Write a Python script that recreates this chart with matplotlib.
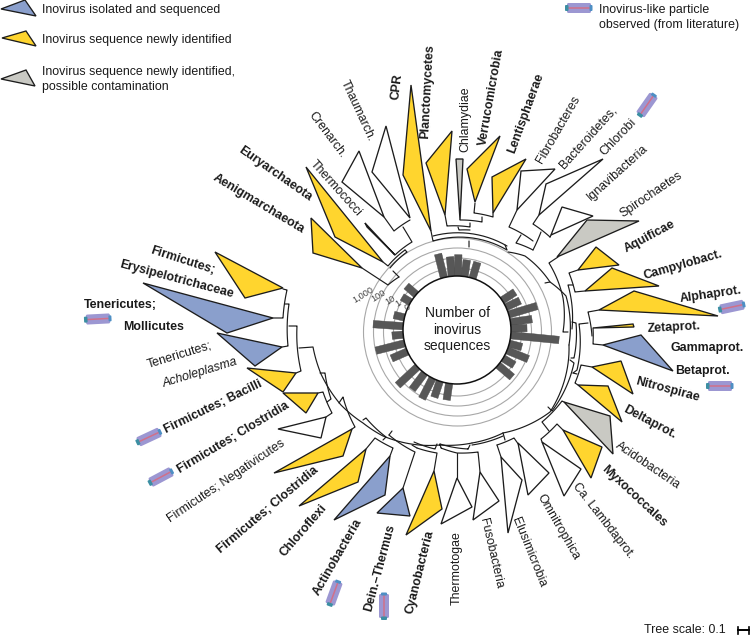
import numpy as np
import matplotlib
matplotlib.use("Agg")
import matplotlib.pyplot as plt
from matplotlib.patches import Polygon, Circle, FancyBboxPatch
from matplotlib.transforms import Affine2D

plt.rcParams['font.family'] = ['Liberation Sans', 'DejaVu Sans']

YEL, BLU, GRY, WHT = '#FFD52E', '#8A9FCC', '#C9C9C3', '#FFFFFF'
INK = '#1c1c1c'

# inovirus counts per radial bar: angle clockwise from north, number of sequences
bar_angles = [-14, -5.5, 1, 8, 16.7, 56.8, 65, 73.3, 81.7, 88.4, 95.6, 104.7, 112.2, 121.5, 130.5,
              188.4, 198.6, 207, 217, 227, 246.5, 255.7, 265, 274, 283.4, 301, 311]
bar_counts = [27, 9, 13.5, 4.7, 4.7, 3.4, 3.5, 89, 15, 4, 7000, 2, 19, 2, 7,
              4.7, 5, 20, 11, 50, 5.4, 93, 1.3, 100, 1.2, 1, 2]
ring_values = [1, 10, 100, 1000]
ring_labels = ['0', '1', '10', '100', '1,000']

# collapsed clades (outline points, colour)
clades = [
    ([(306,167),(335,237),(383,262)], YEL), ([(311,218),(313,253),(362,268)], YEL),
    ([(215,252),(245,298),(283,288)], YEL), ([(365,223),(367,227),(395,255)], WHT),
    ([(359,151),(342,182),(384,217)], WHT), ([(386,126),(372,172),(410,218)], WHT),
    ([(411,85),(403,175),(431,231)], YEL), ([(452,131),(426,163),(445,215)], YEL),
    ([(456,159),(463,159),(460,220)], GRY), ([(500,136),(467,169),(475,202)], YEL),
    ([(526,159),(492,177),(493,213)], YEL), ([(521,171),(555,169),(517,210)], WHT),
    ([(603,159),(546,184),(539,215)], WHT), ([(562,207),(593,216),(551,235)], WHT),
    ([(587,220),(639,221),(557,257)], GRY), ([(596,247),(619,265),(578,270)], YEL),
    ([(612,268),(659,286),(585,291)], YEL), ([(634,291),(718,316),(599,310)], YEL),
    ([(593,328),(633,324),(634,327)], YEL), ([(641,335),(673,371),(603,345)], BLU),
    ([(621,361),(633,394),(592,367)], YEL), ([(608,386),(622,422),(578,385)], YEL),
    ([(610,416),(613,454),(564,402)], GRY), ([(602,447),(591,478),(563,430)], YEL),
    ([(581,469),(564,496),(542,442)], WHT), ([(549,473),(528,495),(518,443)], WHT),
    ([(522,480),(508,533),(501,457)], WHT), ([(499,501),(473,520),(480,472)], WHT),
    ([(472,507),(441,524),(457,478)], WHT), ([(434,471),(442,509),(406,535)], YEL),
    ([(403,488),(410,516),(377,513)], BLU), ([(390,456),(385,495),(334,520)], BLU),
    ([(366,449),(358,482),(299,506)], YEL), ([(352,429),(343,456),(274,473)], YEL),
    ([(326,417),(321,438),(278,429)], WHT), ([(318,393),(306,413),(283,393)], YEL),
    ([(296,373),(283,392),(247,368)], YEL), ([(282,347),(255,366),(217,333)], BLU),
    ([(273,318),(227,333),(143,283)], BLU),
]
legend_clades = [([(1,9),(25,0),(36,16)], BLU), ([(2,38),(26,31),(36,46)], YEL), ([(1,79),(26,70),(35,86)], GRY)]

# branches of the tree
branches = [
    [(362,268),(388,285),(399,277)], [(399,277),(393,271)],
    [(383,262),(388,266),(405,250)], [(390,268),(407,252),(405,250)], [(395,255),(412,242),(403,227)],
    [(384,217),(394,231),(410,220)],
    [(431,231),(433,241),(507,250),(505,245)], [(433,236),(507,246)], [(469,241),(469,247)],
    [(445,215),(447,226),(470,227),(470,223)], [(460,220),(482,222),(482,217)],
    [(475,203),(474,213),(493,217),(493,213)], [(458,227),(459,230),(470,230)],
    [(517,210),(509,227),(533,241)], [(539,215),(533,224),(550,237),(551,235)], [(541,232),(533,250)],
    [(521,235),(516,243),(533,250)],
    [(558,257),(549,263),(563,298),(563,332),(568,332)],
    [(578,270),(569,273),(575,292),(585,291)], [(573,285),(568,285),(572,329)],
    [(599,310),(588,312),(592,336)], [(588,323),(579,324),(577,370),(573,373)],
    [(593,328),(593,344),(603,345)], [(572,322),(576,323),(574,358),(571,358)],
    [(592,367),(581,365),(575,383),(578,385)], [(577,374),(573,373)],
    [(564,402),(562,401),(542,422),(549,431)], [(563,430),(557,424),(541,439),(542,442)],
    [(570,360),(574,363),(552,411),(548,407)], [(569,345),(550,412),(503,433)],
    [(503,433),(505,440)], [(472,443),(503,433)], [(472,445),(503,436)],
    [(497,445),(514,438),(519,445)], [(497,445),(501,457)],
    [(440,444),(468,449),(470,445)], [(440,444),(441,448),(457,453),(478,452),(480,472)],
    [(457,453),(457,478)],
    [(414,442),(435,449),(437,444)], [(417,448),(437,453),(434,471)], [(417,448),(412,445)],
    [(389,435),(415,452),(403,488)], [(389,435),(392,431)],
    [(363,420),(366,418),(386,437),(383,440)], [(366,449),(375,438),(393,448),(390,456)],
    [(339,403),(343,397),(355,427),(352,429)],
    [(283,289),(287,290),(283,318),(273,318)],
    [(285,304),(289,304),(288,346),(282,347)],
    [(289,326),(297,326),(301,371),(296,373)],
    [(299,348),(313,347),(321,374),(341,405),(363,423),(383,436),(440,445),(472,443)],
    [(320,373),(325,373),(331,399),(327,402)], [(318,393),(323,392),(332,413),(326,417)],
    [(569,345),(566,296),(550,282),(545,283)], [(550,282),(525,256),(508,252)],
]

# (text, x, y, rotation, bold, italic)
labels = [
    ("Thaumarch.",357,111,-65,0,0), ("Crenarch.",327,135,-53,0,0), ("CPR",397,87,83,1,0),
    ("Planctomycetes",428,92,87,1,0), ("Chlamydiae",465,119,90,0,0), ("Verrucomicrobia",491,97,80,1,0),
    ("Lentisphaerae",526,113,70,1,0), ("Fibrobacteres",558,130,60,0,0), ("Bacteroidetes,",588,137,48,0,0),
    ("Chlorobi",618,137,46,0,0), ("Ignavibacteria",618,173,42,0,0), ("Spirochaetes",651,195,34,0,0),
    ("Aquificae",650,237,28,1,0), ("Campylobact.",683,265,16,1,0), ("Alphaprot.",711,295,8,1,0),
    ("Zetaprot.",674,328,3,1,0), ("Gammaprot.",707,348,0,1,0), ("Betaprot.",702,371,0,1,0),
    ("Nitrospirae",667,390,-15,1,0), ("Deltaprot.",650,422,-28,1,0), ("Acidobacteria",648,466,-34,0,0),
    ("Myxococcales",634,496,-43,1,0), ("Ca. Lambdaprot.",603,521,-52,0,0), ("Omnitrophica",558,527,-60,0,0),
    ("Elusimicrobia",529,552,-68,0,0), ("Fusobacteria",491,553,-77,0,0), ("Thermotogae",457,568,90,0,0),
    ("Cyanobacteria",420,572,76,1,0), ("Dein.–Thermus",380,568,75,1,0), ("Actinobacteria",338,557,60,1,0),
    ("Chloroflexi",304,531,49,1,0), ("Firmicutes; Clostridia",268,510,40,1,0),
    ("Firmicutes; Negativicutes",226,481,34,0,0), ("Firmicutes; Clostridia",233,438,31,1,0),
    ("Firmicutes; Bacilli",213,407,26,1,0), ("Acholeplasma",200,373,17,0,1), ("Tenericutes;",179,355,17,0,0),
    ("Mollicutes",154,327,0,1,0), ("Tenericutes;",120,305,0,1,0), ("Erysipelotrichaceae",176,279,-15,1,0),
    ("Firmicutes;",183,261,-18,1,0), ("Aenigmarchaeota",259,204,-31,1,0), ("Euryarchaeota",275,174,-35,1,0),
    ("Thermococci",336,188,-48,0,0),
]
legend_text = [("Inovirus isolated and sequenced",42,10), ("Inovirus sequence newly identified",42,40),
               ("Inovirus sequence newly identified,",42,72), ("possible contamination",42,87),
               ("Inovirus-like particle",599,10), ("observed (from literature)",599,25)]
icons = [(579,8,0),(647,105,55),(732,307,12),(720,386,0),(384,606,90),(334,593,70),(161,477,28),(149,437,25),(98,319,3)]

CX, CY = 457, 330
RX, RY = 457.5, 332
R0, DEC = 54, 10
FS = 8.9

def rad(n):
    return R0 + DEC + DEC*np.log10(n)

fig = plt.figure(figsize=(7.51, 6.35), dpi=100)
ax = fig.add_axes([0, 0, 1, 1])
ax.set_xlim(0, 751); ax.set_ylim(635, 0); ax.axis('off')

for v in ring_values:
    ax.add_patch(Circle((RX, RY), rad(v), fill=False, ec='#a8a8a8', lw=0.8, zorder=1))

for a, n in zip(bar_angles, bar_counts):
    t = np.radians(a); u = np.array([np.sin(t), -np.cos(t)]); p = np.array([u[1], -u[0]])*3.7
    c = np.array([CX, CY]); r1 = rad(n)
    ax.add_patch(Polygon([c+u*48+p, c+u*r1+p, c+u*r1-p, c+u*48-p], fc='#575757', ec='#4a4a4a', lw=0.3, zorder=2))
ax.add_patch(Circle((CX, CY), R0, fc='white', ec='#111111', lw=1.1, zorder=3))

def polar_path(pts):
    out = []
    for (x0,y0),(x1,y1) in zip(pts[:-1], pts[1:]):
        r0, r1 = np.hypot(x0-CX, y0-CY), np.hypot(x1-CX, y1-CY)
        t0, t1 = np.arctan2(y0-CY, x0-CX), np.arctan2(y1-CY, x1-CX)
        d = (t1-t0+np.pi) % (2*np.pi) - np.pi
        s = np.linspace(0, 1, 16)
        out.append(np.c_[CX+(r0+(r1-r0)*s)*np.cos(t0+d*s), CY+(r0+(r1-r0)*s)*np.sin(t0+d*s)])
    return np.vstack(out)

for b in branches:
    xy = polar_path(b)
    ax.plot(xy[:,0], xy[:,1], color=INK, lw=0.85, solid_capstyle='round', solid_joinstyle='round', zorder=4)

for pts, col in clades + legend_clades:
    ax.add_patch(Polygon(pts, closed=True, fc=col, ec=INK, lw=0.95, joinstyle='miter', zorder=5))

for txt, x, y, rot, b, i in labels:
    ax.text(x, y, txt, rotation=rot, rotation_mode='anchor', ha='center', va='center', fontsize=FS,
            fontweight='bold' if b else 'normal', fontstyle='italic' if i else 'normal', color='#1a1a1a', zorder=6)
for txt, x, y in legend_text:
    ax.text(x, y, txt, ha='left', va='center', fontsize=FS, color='#1a1a1a', zorder=6)
for txt, y in zip(["Number of", "inovirus", "sequences"], [313, 330, 346]):
    ax.text(CX+0.5, y, txt, ha='center', va='center', fontsize=10, color='#1a1a1a', zorder=6)
for txt, x, y in zip(ring_labels, [407,398,390,379,363], [308,304,300,296,295]):
    ax.text(x, y, txt, rotation=32, rotation_mode='anchor', ha='center', va='center', fontsize=6.6, color='#444444', zorder=6)

for x, y, ang in icons:
    tr = Affine2D().rotate_deg(-ang).translate(x, y) + ax.transData
    ax.add_patch(FancyBboxPatch((-12,-5), 24, 10, boxstyle='round,pad=0,rounding_size=1.5', fc='#9C97D2', ec='none', transform=tr, zorder=6))
    ax.plot([-11,11],[0,0], color='#D0708A', lw=1.1, transform=tr, zorder=7)
    ax.add_patch(FancyBboxPatch((-14,-3), 3.5, 6, boxstyle='round,pad=0,rounding_size=1', fc='#3C8FA3', ec='none', transform=tr, zorder=7))
    ax.add_patch(FancyBboxPatch((10.5,-3), 3, 6, boxstyle='round,pad=0,rounding_size=1', fc='#4E8FC4', ec='none', transform=tr, zorder=7))

ax.text(685, 630, "Tree scale: 0.1", ha='center', va='center', fontsize=FS, color='#1a1a1a')
ax.plot([738,749],[630,630], color='black', lw=1.4)
ax.plot([738,738],[626.5,633.5], color='black', lw=1.2)
ax.plot([749,749],[626.5,633.5], color='black', lw=1.2)

fig.savefig('out.png', dpi=100)
